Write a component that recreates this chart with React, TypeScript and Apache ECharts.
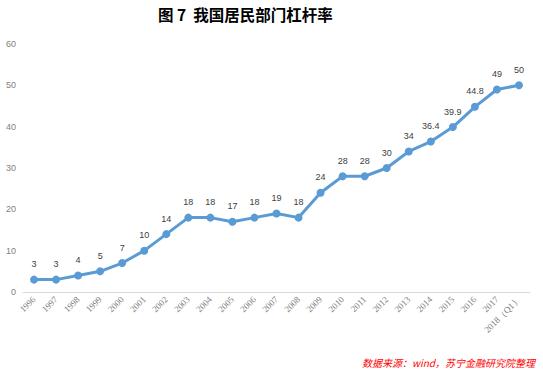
import React, { useEffect, useRef } from "react";
import * as echarts from "echarts";

const years = ["1996","1997","1998","1999","2000","2001","2002","2003","2004","2005","2006","2007","2008","2009","2010","2011","2012","2013","2014","2015","2016","2017","2018（Q1）"];
const leverage = [3,3,4,5,7,10,14,18,18,17,18,19,18,24,28,28,30,34,36.4,39.9,44.8,49,50];
const yTicks = [0,10,20,30,40,50,60];

export default function App() {
  const ref = useRef<HTMLDivElement>(null);
  useEffect(() => {
    const chart = echarts.init(ref.current!, null, { renderer: "svg" });
    chart.setOption({
      animation: false,
      backgroundColor: "#fff",
      title: {
        text: "图 7  我国居民部门杠杆率",
        left: 153,
        top: 1,
        textStyle: { fontSize: 15.5, fontWeight: "bold", color: "#000", fontFamily: "Noto Sans CJK SC" },
      },
      graphic: [{
        type: "text",
        right: 8,
        top: 357,
        style: {
          text: "数据来源：wind，苏宁金融研究院整理",
          fill: "#ff0000",
          fontSize: 10,
          fontStyle: "italic",
          fontFamily: "Noto Sans CJK SC",
        },
      }],
      grid: { left: 23, right: 13, top: 44, bottom: 82, containLabel: false },
      xAxis: {
        type: "category",
        data: years,
        boundaryGap: true,
        axisLine: { lineStyle: { color: "#d9d9d9", width: 1 } },
        axisTick: { show: false },
        axisLabel: {
          rotate: 45,
          interval: 0,
          color: "#808080",
          fontSize: 9,
          fontFamily: "Liberation Serif",
          margin: 6,
        },
      },
      yAxis: {
        type: "value",
        min: yTicks[0],
        max: yTicks[yTicks.length - 1],
        interval: 10,
        splitLine: { show: false },
        axisLine: { show: false },
        axisTick: { show: false },
        axisLabel: { color: "#808080", fontSize: 9, fontFamily: "Liberation Sans", margin: 7 },
      },
      series: [{
        type: "line",
        data: leverage,
        symbol: "circle",
        symbolSize: 8,
        itemStyle: { color: "#5b9bd5" },
        lineStyle: { color: "#5b9bd5", width: 3 },
        label: {
          show: true,
          position: "top",
          distance: 7,
          color: "#404040",
          fontSize: 9,
          fontFamily: "Liberation Sans",
        },
      }],
    });
    return () => chart.dispose();
  }, []);
  return <div ref={ref} style={{ width: 543, height: 374, position: "absolute", left: 0, top: 0 }} />;
}
